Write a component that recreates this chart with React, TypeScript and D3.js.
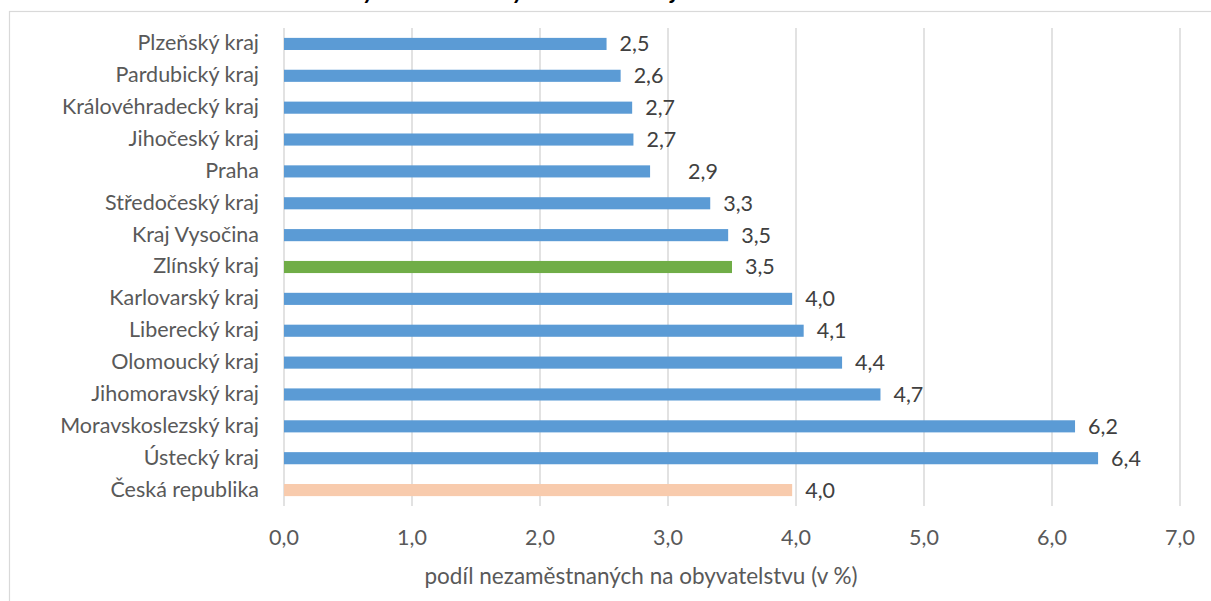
import React from "react";
import * as d3 from "d3";

// regions, top to bottom as in the chart
const regions = [
  "Plzeňský kraj",
  "Pardubický kraj",
  "Královéhradecký kraj",
  "Jihočeský kraj",
  "Praha",
  "Středočeský kraj",
  "Kraj Vysočina",
  "Zlínský kraj",
  "Karlovarský kraj",
  "Liberecký kraj",
  "Olomoucký kraj",
  "Jihomoravský kraj",
  "Moravskoslezský kraj",
  "Ústecký kraj",
  "Česká republika",
];

// share of unemployed in population (%)
const values = [2.52, 2.63, 2.72, 2.73, 2.86, 3.33, 3.47, 3.5, 3.97, 4.06, 4.36, 4.66, 6.18, 6.36, 3.97];

const xTicks = [0, 1, 2, 3, 4, 5, 6, 7];

const highlight = "Zlínský kraj";
const total = "Česká republika";

const W = 1211;
const H = 601;
const FONT = "Lato, 'Open Sans', sans-serif";
const TEXT = "#595959";

export default function App() {
  const x = d3.scaleLinear().domain([0, 7]).range([284, 1180]);
  const y = d3.scaleBand<string>().domain(regions).range([28, 506]).paddingInner(0.62).paddingOuter(0.31);
  const fmt = (v: number) => (Math.round(v * 10) / 10).toFixed(1).replace(".", ",");

  const colorOf = (r: string) => (r === highlight ? "#70AD47" : r === total ? "#F8CBAD" : "#5B9BD5");

  return (
    <svg
      width={W}
      height={H}
      style={{ position: "absolute", left: 0, top: 0, background: "#fff" }}
      fontFamily={FONT}
    >
      <rect x={0} y={0} width={W} height={H} fill="#fff" />
      {/* chart title, cut off by the top edge as in the source */}
      <text x={440} y={-1} textAnchor="middle" fontSize={24} fontWeight="bold" fontStyle="italic" fill="#000">
        Podíl nezaměstnaných osob na obyvatelstvu v krajích
      </text>
      {/* chart area border */}
      <rect x={9.5} y={11.5} width={W + 20} height={H + 20} fill="none" stroke="#d9d9d9" strokeWidth={1.2} />

      {/* grid */}
      {xTicks.map((t) => (
        <line key={t} x1={x(t)} x2={x(t)} y1={28} y2={506} stroke="#d9d9d9" strokeWidth={1.5} />
      ))}

      {/* bars */}
      {regions.map((r, i) => (
        <rect
          key={r}
          x={x(0)}
          y={y(r)!}
          width={x(values[i]) - x(0)}
          height={y.bandwidth()}
          fill={colorOf(r)}
        />
      ))}

      {/* value labels */}
      {regions.map((r, i) => (
        <text
          key={r}
          x={x(values[i]) + (r === "Praha" ? 38 : 13)}
          y={y(r)! + y.bandwidth() / 2 + 2}
          dominantBaseline="middle"
          fontSize={21.5}
          fill="#404040"
        >
          {fmt(values[i])}
        </text>
      ))}

      {/* category labels */}
      {regions.map((r) => (
        <text
          key={r}
          x={259}
          y={y(r)! + y.bandwidth() / 2 + 1}
          dominantBaseline="middle"
          textAnchor="end"
          fontSize={21.5}
          fill={TEXT}
        >
          {r}
        </text>
      ))}

      {/* x tick labels */}
      {xTicks.map((t) => (
        <text key={t} x={x(t)} y={540} dominantBaseline="middle" textAnchor="middle" fontSize={21.5} fill={TEXT}>
          {fmt(t)}
        </text>
      ))}

      <text x={641} y={578} dominantBaseline="middle" textAnchor="middle" fontSize={22.5} fill={TEXT}>
        podíl nezaměstnaných na obyvatelstvu (v %)
      </text>
    </svg>
  );
}
